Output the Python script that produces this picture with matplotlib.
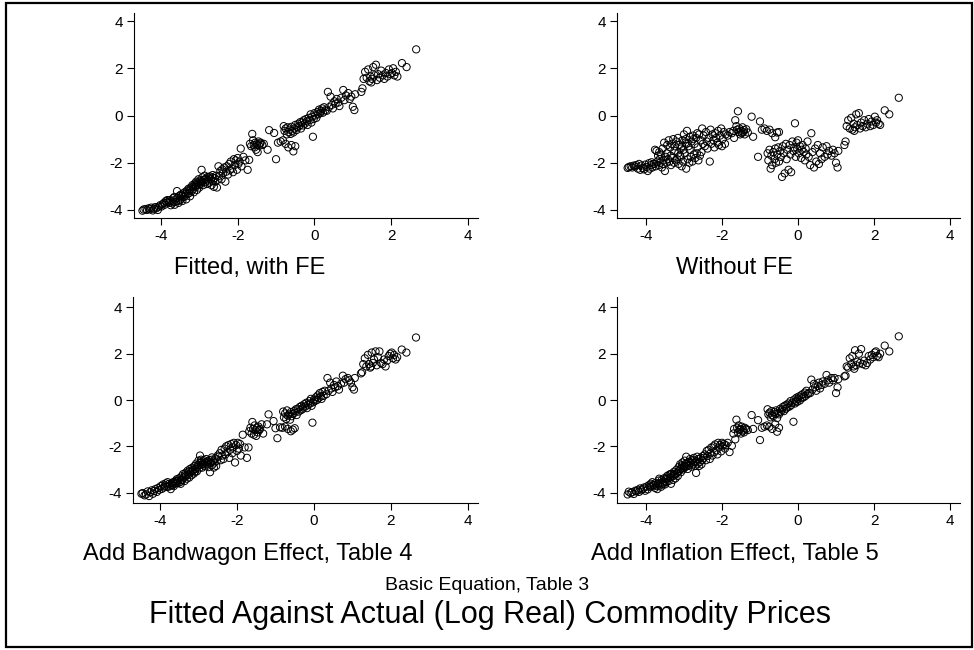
import matplotlib
matplotlib.use("Agg")
import matplotlib.pyplot as plt
from matplotlib.patches import Rectangle

plt.rcParams['font.family'] = ['Liberation Sans', 'DejaVu Sans']
plt.rcParams['axes.unicode_minus'] = False

# actual (log real) commodity price, shared by all four panels
actual = [
    # low tail
    -4.48, -4.45, -4.40, -4.36, -4.32, -4.28, -4.25, -4.21, -4.18, -4.15,
    -4.12, -4.08, -4.05, -4.02, -3.98, -3.95, -3.92, -3.90, -3.87, -3.85,
    -3.83, -3.80,
    # dense block
    -3.78, -3.76, -3.74, -3.72, -3.70, -3.68, -3.66, -3.64, -3.62, -3.60,
    -3.58, -3.56, -3.54, -3.52, -3.50, -3.48, -3.46, -3.44, -3.42, -3.40,
    -3.38, -3.36, -3.34, -3.32, -3.30, -3.28, -3.26, -3.24, -3.22, -3.20,
    -3.18, -3.16, -3.14, -3.12, -3.10, -3.08, -3.06, -3.04, -3.02, -3.00,
    -2.98, -2.96, -2.94, -2.92, -2.90, -2.88, -2.86, -2.84, -2.82, -2.80,
    -2.78, -2.76, -2.74, -2.72, -2.70, -2.68, -2.66, -2.64, -2.62, -2.60,
    -2.58, -2.56, -2.54, -2.52, -2.50,
    -3.65, -3.55, -3.45, -3.35, -3.25, -3.15, -3.05, -2.95, -2.85, -2.75,
    -2.65, -3.01, -2.93, -3.09,
    # -2.5 .. -1.7
    -2.48, -2.45, -2.42, -2.40, -2.38, -2.35, -2.32, -2.30, -2.28, -2.25,
    -2.22, -2.20, -2.18, -2.15, -2.12, -2.10, -2.08, -2.05, -2.02, -2.00,
    -1.98, -1.95, -1.92, -1.90, -1.85, -1.80, -1.74, -1.70,
    # -1.7 .. -1.3
    -1.68, -1.65, -1.62, -1.60, -1.58, -1.56, -1.54, -1.52, -1.50, -1.48,
    -1.46, -1.44, -1.42, -1.40, -1.36, -1.32,
    # sparse gap
    -1.22, -1.18, -1.05, -1.00, -0.95, -0.88, -0.82, -0.75, -0.68, -0.60,
    -0.55, -0.50,
    # around zero
    -0.80, -0.78, -0.75, -0.72, -0.70, -0.68, -0.65, -0.62, -0.60, -0.58,
    -0.55, -0.52, -0.50, -0.47, -0.45, -0.42, -0.40, -0.37, -0.35, -0.32,
    -0.30, -0.28, -0.25, -0.22, -0.20, -0.18, -0.15, -0.12, -0.10, -0.08,
    -0.06, -0.04, -0.02, 0.00, 0.02, 0.05, 0.08, 0.10, 0.12, 0.15,
    0.18, 0.20, 0.22, 0.25, 0.28,
    # 0.3 .. 1.1
    0.32, 0.35, 0.38, 0.42, 0.45, 0.48, 0.52, 0.55, 0.58, 0.62,
    0.65, 0.70, 0.75, 0.78, 0.82, 0.88, 0.92, 0.96, 1.00, 1.04,
    1.06,
    # 1.2 .. 2.2
    1.22, 1.25, 1.28, 1.32, 1.36, 1.40, 1.43, 1.46, 1.50, 1.53,
    1.56, 1.60, 1.63, 1.66, 1.70, 1.74, 1.78, 1.82, 1.86, 1.90,
    1.94, 1.98, 2.02, 2.05, 2.08, 2.12, 2.16, 1.48,
    # top
    2.28, 2.40, 2.65,
]

fitted_fe = [
    -4.03, -3.98, -3.96, -4.00, -3.93, -3.97, -3.90, -4.02, -3.95, -3.88,
    -3.93, -4.00, -3.86, -3.80, -3.85, -3.75, -3.70, -3.78, -3.62, -3.68,
    -3.58, -3.65,
    -3.70, -3.58, -3.80, -3.62, -3.72, -3.50, -3.66, -3.78, -3.55, -3.64,
    -3.20, -3.48, -3.70, -3.40, -3.58, -3.35, -3.52, -3.62, -3.30, -3.45,
    -3.25, -3.40, -3.55, -3.18, -3.32, -3.10, -3.28, -3.42, -3.05, -3.20,
    -2.95, -3.12, -3.25, -2.88, -3.02, -2.80, -3.15, -2.92, -2.70, -3.05,
    -2.75, -2.88, -2.30, -2.62, -2.95, -2.72, -2.55, -2.82, -2.68, -2.90,
    -2.60, -2.75, -2.85, -2.58, -2.70, -2.95, -2.62, -2.78, -3.02, -2.65,
    -2.80, -2.55, -3.05, -2.72, -2.15,
    -3.45, -3.62, -3.40, -3.30, -3.15, -3.00, -2.85, -2.78, -2.70, -2.62,
    -2.52, -2.95, -2.82, -2.95,
    -2.55, -2.35, -2.70, -2.28, -2.45, -2.20, -2.80, -2.38, -2.15, -2.50,
    -2.05, -2.30, -1.95, -2.25, -2.40, -1.85, -2.10, -1.90, -2.30, -1.80,
    -2.05, -1.95, -1.40, -2.15, -1.75, -1.90, -2.30, -1.88,
    -1.20, -1.30, -0.78, -1.05, -1.25, -1.35, -1.15, -1.45, -1.22, -1.55,
    -1.10, -1.28, -1.20, -1.15, -1.25, -1.20,
    -1.45, -0.62, -0.74, -1.85, -1.15, -1.10, -1.05, -1.20, -1.35, -1.25,
    -1.52, -1.30,
    -0.45, -0.65, -0.55, -0.80, -0.50, -0.70, -0.60, -0.78, -0.48, -0.65,
    -0.72, -0.55, -0.40, -0.62, -0.50, -0.35, -0.45, -0.28, -0.55, -0.30,
    -0.42, -0.20, -0.35, -0.15, -0.25, -0.40, -0.10, -0.20, 0.05, -0.30,
    -0.05, -0.90, -0.15, 0.10, 0.00, -0.10, 0.15, 0.05, 0.25, 0.10,
    0.20, 0.30, 0.12, 0.35, 0.22,
    0.20, 1.00, 0.35, 0.80, 0.45, 0.30, 0.60, 0.50, 0.70, 0.55,
    0.40, 0.75, 1.08, 0.65, 0.85, 0.95, 0.70, 0.80, 0.37, 0.23,
    0.90,
    1.00, 1.15, 1.55, 1.85, 1.60, 1.95, 1.45, 1.65, 1.55, 2.05,
    1.70, 2.15, 1.50, 1.75, 1.60, 1.90, 1.70, 1.55, 1.80, 1.65,
    1.95, 1.75, 1.80, 2.00, 1.70, 1.85, 1.65, 1.40,
    2.22, 2.05, 2.80,
]

without_fe = [
    -2.22, -2.18, -2.15, -2.20, -2.12, -2.16, -2.10, -2.25, -2.05, -2.30,
    -2.12, -2.22, -2.28, -2.08, -2.18, -2.35, -2.02, -2.25, -2.10, -1.98,
    -2.20, -2.05,
    -2.05, -1.45, -2.15, -1.50, -1.95, -1.70, -2.10, -1.85, -2.00, -1.65,
    -2.20, -1.40, -1.90, -1.15, -2.35, -1.75, -2.00, -1.25, -1.85, -1.05,
    -1.95, -1.35, -2.10, -1.20, -1.80, -1.00, -2.00, -1.30, -1.90, -1.10,
    -1.85, -0.95, -2.05, -1.25, -1.70, -1.40, -2.15, -1.05, -1.95, -0.80,
    -1.60, -1.15, -2.25, -0.65, -1.85, -1.30, -2.00, -0.90, -1.75, -1.10,
    -1.95, -0.85, -1.65, -1.20, -1.80, -0.95, -1.60, -1.35, -1.90, -0.80,
    -1.70, -1.05, -1.55, -0.55, -1.20,
    -1.55, -2.05, -1.60, -1.70, -1.50, -1.60, -1.30, -1.00, -1.45, -1.00,
    -0.75, -1.45, -1.20, -1.75,
    -0.85, -1.30, -0.70, -1.10, -1.40, -0.95, -1.95, -0.60, -1.20, -0.80,
    -1.05, -1.35, -0.75, -0.95, -1.15, -0.65, -1.25, -0.85, -0.55, -1.30,
    -1.00, -0.70, -1.20, -0.80, -0.85, -0.70, -0.75, -0.65,
    -0.95, -0.20, -0.45, -0.60, 0.18, -0.70, -0.55, -0.80, -0.65, -0.75,
    -0.50, -0.70, -0.62, -0.80, -0.58, -0.72,
    -0.05, -0.90, -1.75, -0.25, -0.60, -0.55, -0.65, -0.60, -0.75, -0.92,
    -0.72, -0.70,
    -1.60, -1.90, -1.45, -2.25, -1.70, -2.10, -1.55, -1.85, -1.40, -2.00,
    -1.65, -1.35, -1.95, -1.50, -1.75, -2.60, -1.30, -1.60, -2.45, -1.20,
    -1.85, -1.45, -2.30, -1.25, -1.65, -2.40, -1.10, -1.50, -1.35, -0.33,
    -1.75, -1.15, -1.40, -1.05, -1.60, -1.30, -1.80, -1.45, -1.25, -1.55,
    -1.90, -1.40, -1.65, -1.10, -1.75,
    -2.10, -0.75, -1.55, -2.20, -1.40, -1.95, -1.25, -2.05, -1.60, -1.85,
    -1.35, -1.75, -1.30, -1.65, -1.50, -1.70, -1.45, -1.60, -2.00, -2.20,
    -1.50,
    -1.25, -1.10, -0.45, -0.20, -0.55, -0.10, -0.60, -0.35, -0.50, 0.05,
    -0.40, 0.10, -0.55, -0.30, -0.45, -0.20, -0.50, -0.35, -0.15, -0.45,
    -0.25, -0.40, -0.05, -0.30, -0.20, -0.35, -0.40, -0.65,
    0.22, 0.05, 0.75,
]

bandwagon = [
    -4.05, -4.02, -4.12, -4.08, -3.95, -4.15, -3.98, -3.90, -4.05, -3.93,
    -3.85, -3.97, -3.80, -3.88, -3.72, -3.84, -3.65, -3.78, -3.70, -3.60,
    -3.75, -3.55,
    -3.75, -3.62, -3.70, -3.85, -3.60, -3.68, -3.55, -3.72, -3.62, -3.50,
    -3.58, -3.42, -3.60, -3.50, -3.38, -3.55, -3.62, -3.30, -3.45, -3.20,
    -3.35, -3.50, -3.15, -3.28, -3.40, -3.05, -3.22, -3.35, -2.98, -3.12,
    -3.25, -2.92, -3.05, -3.18, -2.85, -2.98, -2.75, -3.08, -2.88, -2.62,
    -2.95, -2.40, -2.80, -2.68, -2.92, -2.75, -2.60, -2.85, -2.70, -2.55,
    -2.78, -2.65, -2.90, -2.60, -3.12, -2.72, -2.58, -2.80, -2.65, -2.92,
    -2.70, -2.52, -2.85, -2.62, -2.40,
    -3.60, -3.48, -3.45, -3.25, -3.10, -3.02, -2.92, -2.72, -2.78, -2.70,
    -2.48, -2.80, -2.58, -3.10,
    -2.45, -2.30, -2.60, -2.15, -2.40, -2.55, -2.10, -2.35, -2.00, -2.25,
    -1.95, -2.50, -2.15, -1.90, -2.30, -2.05, -1.85, -2.70, -1.95, -2.20,
    -1.85, -2.10, -1.90, -2.40, -1.50, -2.05, -2.50, -2.05,
    -1.35, -1.20, -1.45, -0.95, -1.25, -1.50, -1.10, -1.30, -1.55, -1.20,
    -1.40, -1.15, -1.30, -1.25, -1.05, -1.45,
    -1.05, -0.62, -0.91, -1.22, -1.65, -1.18, -1.20, -1.15, -1.25, -1.35,
    -1.28, -1.22,
    -0.50, -0.75, -0.58, -0.82, -0.45, -0.68, -0.62, -0.85, -0.52, -0.70,
    -0.60, -0.48, -0.55, -0.40, -0.65, -0.38, -0.50, -0.30, -0.45, -0.25,
    -0.40, -0.32, -0.18, -0.28, -0.12, -0.35, -0.20, -0.05, -0.15, 0.05,
    -0.25, -0.98, -0.10, 0.02, -0.05, 0.12, 0.00, 0.20, 0.08, 0.30,
    0.15, 0.05, 0.35, 0.18, 0.40,
    0.25, 0.95, 0.40, 0.75, 0.50, 0.35, 0.65, 0.55, 0.80, 0.60,
    0.45, 0.70, 1.05, 0.75, 0.90, 0.95, 0.85, 0.75, 0.55, 0.45,
    0.95,
    1.15, 1.20, 1.55, 1.80, 1.45, 1.95, 1.55, 1.40, 2.05, 1.60,
    1.75, 2.10, 1.50, 1.85, 2.10, 1.60, 1.55, 1.75, 1.45, 1.70,
    1.90, 2.00, 2.05, 1.80, 1.95, 1.75, 1.85, 1.45,
    2.18, 2.05, 2.70,
]

inflation = [
    -4.08, -3.96, -4.02, -3.98, -4.06, -3.92, -3.95, -3.88, -3.97, -3.82,
    -3.90, -3.85, -3.78, -3.92, -3.74, -3.86, -3.68, -3.75, -3.62, -3.72,
    -3.55, -3.66,
    -3.68, -3.80, -3.58, -3.72, -3.85, -3.62, -3.48, -3.70, -3.58, -3.75,
    -3.45, -3.60, -3.52, -3.38, -3.65, -3.42, -3.55, -3.28, -3.40, -3.50,
    -3.22, -3.35, -3.62, -3.18, -3.30, -3.45, -3.10, -3.25, -3.38, -3.02,
    -3.15, -3.28, -2.90, -3.05, -2.78, -3.12, -2.95, -2.70, -3.00, -2.85,
    -2.62, -2.90, -2.45, -2.75, -2.98, -2.68, -2.82, -2.55, -2.72, -2.88,
    -2.62, -2.78, -2.50, -2.70, -2.85, -3.15, -2.65, -2.75, -2.55, -2.85,
    -2.68, -2.50, -2.78, -2.60, -2.42,
    -3.40, -3.65, -3.35, -3.20, -3.20, -3.08, -2.82, -2.75, -2.66, -2.58,
    -2.45, -2.92, -2.85, -2.98,
    -2.50, -2.35, -2.60, -2.20, -2.42, -2.15, -2.55, -2.30, -2.05, -2.40,
    -2.00, -2.25, -1.92, -2.18, -2.35, -1.85, -2.05, -1.95, -2.22, -1.85,
    -2.00, -1.90, -2.10, -1.95, -1.85, -2.25, -1.98, -1.45,
    -1.25, -1.70, -0.85, -1.20, -1.40, -1.10, -1.30, -1.25, -1.45, -1.15,
    -1.35, -1.28, -1.40, -1.20, -1.25, -1.30,
    -0.65, -1.25, -0.87, -1.73, -1.20, -1.15, -1.10, -1.15, -1.25, -1.05,
    -1.37, -1.20,
    -0.40, -0.62, -0.55, -0.75, -0.48, -0.65, -0.70, -0.52, -0.60, -0.45,
    -0.78, -0.55, -0.62, -0.38, -0.50, -0.42, -0.30, -0.48, -0.25, -0.38,
    -0.20, -0.32, -0.15, -0.28, -0.05, -0.22, -0.12, -0.94, 0.02, -0.15,
    -0.05, 0.10, -0.08, 0.05, 0.15, -0.02, 0.20, 0.08, 0.25, 0.12,
    0.32, 0.18, 0.40, 0.25, 0.30,
    0.30, 0.88, 0.45, 0.70, 0.55, 0.40, 0.60, 0.75, 0.50, 0.65,
    0.80, 0.70, 1.08, 0.85, 0.75, 0.95, 0.85, 0.95, 0.30, 0.55,
    0.90,
    1.02, 1.05, 1.45, 1.40, 1.80, 1.55, 1.90, 1.45, 2.15, 1.50,
    1.65, 2.00, 1.60, 2.20, 1.55, 1.70, 1.50, 1.60, 1.90, 1.75,
    1.95, 1.85, 2.05, 2.10, 1.90, 1.85, 2.00, 1.35,
    2.35, 2.10, 2.75,
]

for s in (fitted_fe, without_fe, bandwagon, inflation):
    assert len(s) == len(actual)

titles = ["Fitted, with FE", "Without FE",
          "Add Bandwagon Effect, Table 4", "Add Inflation Effect, Table 5"]
ticks = [-4, -2, 0, 2, 4]

W, H = 974, 650
fig = plt.figure(figsize=(W / 100, H / 100), dpi=100)


def add_ax(left, top, right, bottom):
    return fig.add_axes([left / W, 1 - bottom / H, (right - left) / W, (bottom - top) / H])


# pixel boxes (left, top, right, bottom), x limits, y limits, title centre
layout = [
    ((134, 13, 478, 218), (-4.70, 4.26), (-4.34, 4.34), (250, 268)),
    ((617, 13, 960, 218), (-4.76, 4.26), (-4.34, 4.34), (735, 268)),
    ((133, 297, 478, 503), (-4.70, 4.26), (-4.45, 4.45), (248, 554)),
    ((617, 297, 960, 503), (-4.76, 4.26), (-4.45, 4.45), (735, 554)),
]

for yvals, title, (box, xl, yl, tpos) in zip(
        [fitted_fe, without_fe, bandwagon, inflation], titles, layout):
    ax = add_ax(*box)
    ax.scatter(actual, yvals, s=27, facecolors='none', edgecolors='black',
               linewidths=0.7, clip_on=False)
    ax.set_xlim(*xl)
    ax.set_ylim(*yl)
    ax.set_xticks(ticks)
    ax.set_yticks(ticks)
    ax.spines['top'].set_visible(False)
    ax.spines['right'].set_visible(False)
    for sp in ('left', 'bottom'):
        ax.spines[sp].set_linewidth(0.8)
    ax.tick_params(direction='out', length=5, width=0.8, labelsize=11, pad=3)
    fig.text(tpos[0] / W, 1 - tpos[1] / H, title, ha='center', va='center',
             fontsize=17)

fig.text(487 / W, 1 - 585 / H, "Basic Equation, Table 3", ha='center',
         va='center', fontsize=14)
fig.text(490 / W, 1 - 615 / H, "Fitted Against Actual (Log Real) Commodity Prices",
         ha='center', va='center', fontsize=22)

fig.patches.append(Rectangle((6 / W, 3 / H), 966 / W, 644 / H, transform=fig.transFigure,
                             fill=False, edgecolor='black', linewidth=1.6))

fig.savefig('out.png', dpi=100)
